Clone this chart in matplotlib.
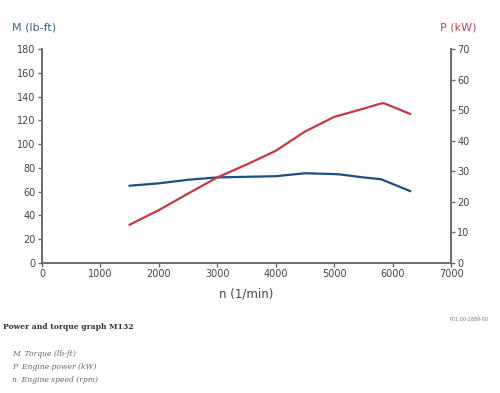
import matplotlib.pyplot as plt

# torque (lb-ft) and power (kW) vs engine speed
rpm_torque = [1500, 2000, 2500, 3000, 3500, 4000, 4200, 4500, 5000, 5100, 5500, 5800, 6300]
torque = [65, 67, 70, 72, 72.5, 73, 74, 75.5, 74.8, 74.5, 72, 70.5, 60.5]

rpm_power = [1500, 2000, 2500, 3000, 3500, 4000, 4500, 5000, 5500, 5800, 5850, 6300]
power = [12.5, 17.3, 22.7, 28, 32.2, 36.7, 43, 47.8, 50.5, 52.2, 52.3, 48.8]

xticks = [0, 1000, 2000, 3000, 4000, 5000, 6000, 7000]
m_ticks = list(range(0, 181, 20))
p_ticks = list(range(0, 71, 10))

blue = '#1d4f7e'
red = '#c23a45'
axis_grey = '#6a6a6a'

fig = plt.figure(figsize=(5, 3.93), dpi=100)
ax = fig.add_axes([0.084, 0.331, 0.818, 0.544])
ax2 = ax.twinx()

ax.plot(rpm_torque, torque, color=blue, lw=1.6)
ax2.plot(rpm_power, power, color=red, lw=1.6)

ax.set_xlim(0, 7000)
ax.set_ylim(0, 180)
ax2.set_ylim(0, 70)
ax.set_xticks(xticks)
ax.set_yticks(m_ticks)
ax2.set_yticks(p_ticks)

for a in (ax, ax2):
    a.spines['top'].set_visible(False)
    for s in ('left', 'right', 'bottom'):
        a.spines[s].set_color(axis_grey)
        a.spines[s].set_linewidth(1.2)
    a.tick_params(colors=axis_grey, labelcolor='#444444', labelsize=7, length=3, width=1, pad=1.5)

ax.set_xlabel('n (1/min)', fontsize=8.5, color='#444444', labelpad=6)

fig.text(0.024, 0.922, 'M (lb-ft)', fontsize=8, color='#3b5f8c')
fig.text(0.88, 0.922, 'P (kW)', fontsize=8, color='#b04a58')

fig.text(0.006, 0.163, 'Power and torque graph M132', fontsize=5.5,
         family='DejaVu Serif', weight='bold', color='#333333')
fig.text(0.9, 0.182, 'P01.00-2889-00', fontsize=3.5, color='#777777')

legend_lines = ['M  Torque (lb-ft)', 'P  Engine power (kW)', 'n  Engine speed (rpm)']
for i, t in enumerate(legend_lines):
    fig.text(0.024, 0.093 - i * 0.032, t, fontsize=5.5, family='DejaVu Serif',
             style='italic', color='#666666')

fig.savefig('out.png', dpi=100)
